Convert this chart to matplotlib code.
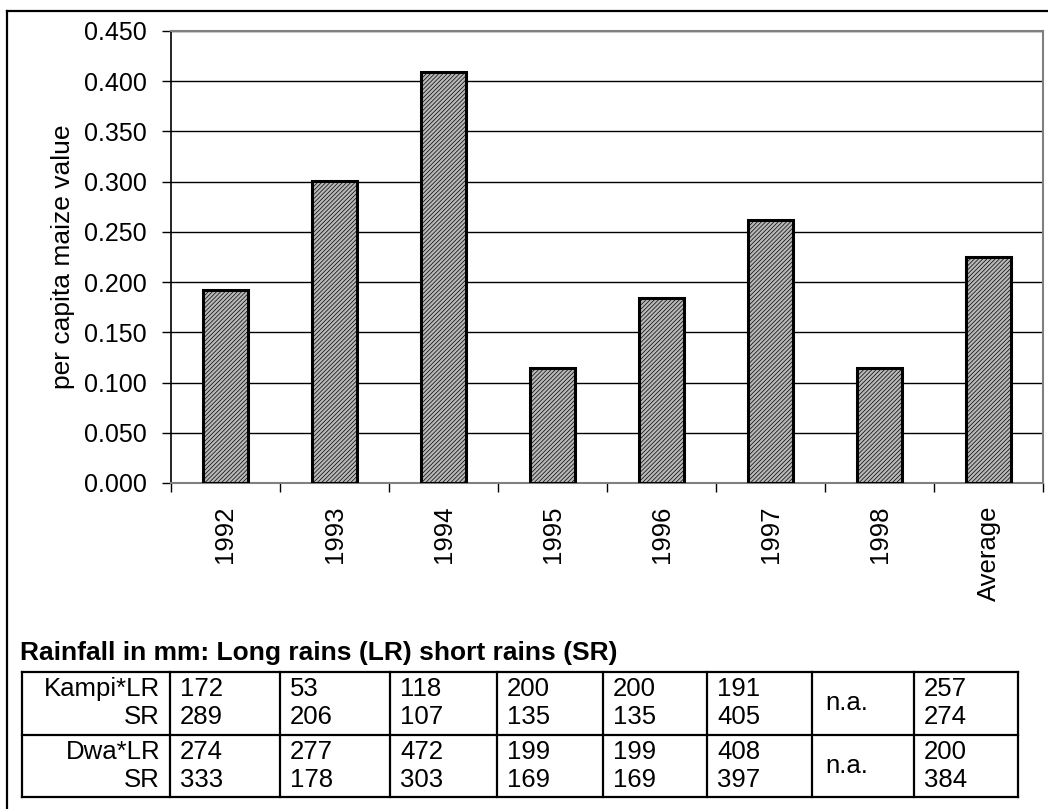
import numpy as np
import matplotlib.pyplot as plt

plt.rcParams['font.family'] = ['Liberation Sans', 'DejaVu Sans']
plt.rcParams['hatch.linewidth'] = 0.5
plt.rcParams['hatch.color'] = '#303030'

years = ['1992', '1993', '1994', '1995', '1996', '1997', '1998', 'Average']
maize_value = [0.192, 0.301, 0.409, 0.114, 0.184, 0.262, 0.114, 0.225]

# rainfall table (mm), None = not available
row_labels = ['Kampi*LR', 'SR', 'Dwa*LR', 'SR']
kampi_lr = [172, 53, 118, 200, 200, 191, None, 257]
kampi_sr = [289, 206, 107, 135, 135, 405, None, 274]
dwa_lr = [274, 277, 472, 199, 199, 408, None, 200]
dwa_sr = [333, 178, 303, 169, 169, 397, None, 384]
table_title = 'Rainfall in mm: Long rains (LR) short rains (SR)'

W, H = 1048, 809
fig = plt.figure(figsize=(W / 100, H / 100), dpi=100)

# helper axes in pixel coordinates for border and table
bg = fig.add_axes([0, 0, 1, 1])
bg.set_xlim(0, W)
bg.set_ylim(H, 0)
bg.axis('off')
bg.plot([7, W + 5], [11, 11], color='black', lw=1.6)
bg.plot([7, 7], [11, H + 5], color='black', lw=1.6)

ax = fig.add_axes([171 / W, 1 - 483 / H, (1043 - 171) / W, (483 - 31) / H])
x = np.arange(len(years))
ax.bar(x, maize_value, width=0.42, facecolor='#b8b8b8', edgecolor='black',
       linewidth=2.2, hatch='////////', zorder=3)
ax.set_xlim(-0.5, len(years) - 0.5)
ax.set_ylim(0, 0.45)
ticks = np.arange(0, 0.451, 0.05)
ax.set_yticks(ticks)
ax.set_yticklabels(['%.3f' % v for v in ticks], fontsize=18)
ax.yaxis.grid(True, color='black', lw=1)
ax.set_axisbelow(True)
ax.set_xticks(x)
ax.set_xticklabels(years, rotation=90, fontsize=18.5, va='top')
ax.tick_params(axis='x', length=0, pad=16)
ax.tick_params(axis='y', length=6.5, width=1, direction='out', pad=11)
# category boundary ticks
ax.set_xticks(np.arange(len(years) + 1) - 0.5, minor=True)
ax.tick_params(axis='x', which='minor', length=6.5, width=1, direction='out')
for s in ['top', 'right', 'bottom']:
    ax.spines[s].set_color('#808080')
    ax.spines[s].set_linewidth(1.5)
ax.spines['left'].set_color('black')
ax.spines['left'].set_linewidth(1.2)
ax.set_ylabel('per capita maize value', fontsize=19, labelpad=6)

# table
bg.text(20, 653, table_title, fontsize=19, fontweight='bold', va='center', ha='left')
col_edges = [22, 170, 280, 390, 497, 603, 707, 812, 914, 1018]
top, mid, bot = 672, 735, 797
lw = 1.6
for yy in [top, mid, bot]:
    bg.plot([col_edges[0], col_edges[-1]], [yy, yy], color='black', lw=lw)
for ce in col_edges:
    bg.plot([ce, ce], [top, bot], color='black', lw=lw)

rows = [kampi_lr, kampi_sr, dwa_lr, dwa_sr]
row_y = [689, 717, 752, 780]
for label, vals, ry in zip(row_labels, rows, row_y):
    bg.text(col_edges[1] - 10, ry, label, fontsize=18.5, ha='right', va='center')
    for j, v in enumerate(vals):
        if v is not None:
            bg.text(col_edges[j + 1] + 10, ry, str(v), fontsize=18.5, ha='left', va='center')
for k in range(2):
    for j, v in enumerate(rows[2 * k]):
        if v is None:
            bg.text(col_edges[j + 1] + 13, (row_y[2 * k] + row_y[2 * k + 1]) / 2,
                    'n.a.', fontsize=18.5, ha='left', va='center')

fig.savefig('out.png', dpi=100)
